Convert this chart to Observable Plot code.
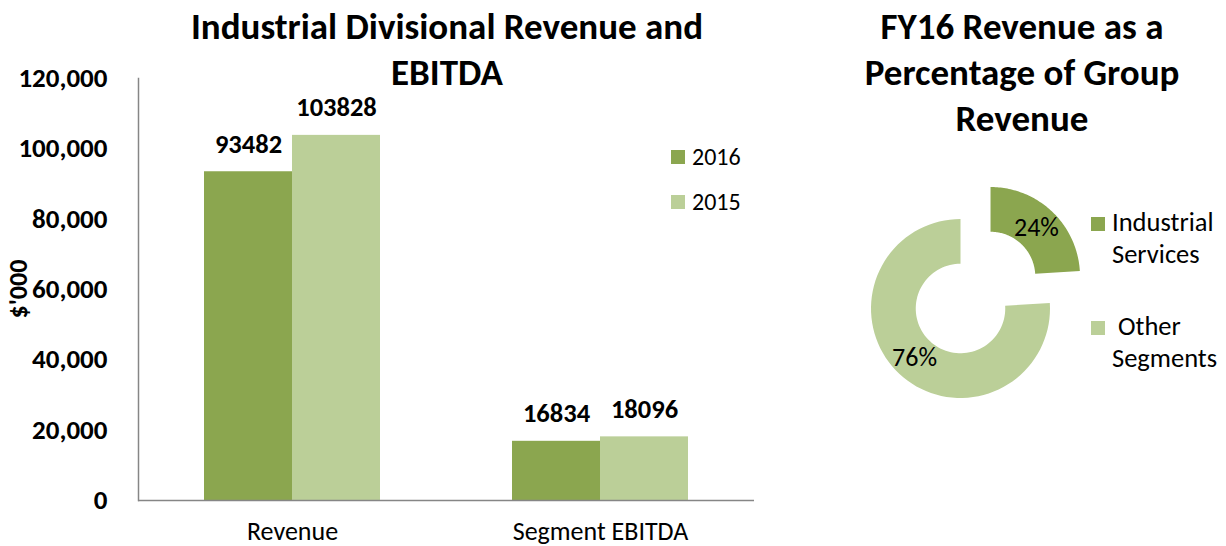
<!DOCTYPE html>
<html>
<head>
<meta charset="utf-8">
<script src="https://cdn.jsdelivr.net/npm/d3@7"></script>
<script src="https://cdn.jsdelivr.net/npm/@observablehq/plot@0.6"></script>
<style>
  html, body { margin: 0; padding: 0; background: #fff; }
  body { width: 1226px; height: 546px; position: relative; overflow: hidden;
         font-family: Carlito, Lato, "Open Sans", sans-serif; color: #000; }
  .abs { position: absolute; }
  .title { font-weight: bold; font-size: 37px; text-align: center; line-height: 46px; white-space: nowrap; }
  .leg { font-size: 24px; display: flex; align-items: center; }
  .sw { display: inline-block; width: 14px; height: 14px; margin-right: 7px; }
  .leg2 { font-size: 26.5px; line-height: 32px; }
</style>
</head>
<body>
<div id="bar" class="abs" style="left:0;top:0"></div>
<div id="pie" class="abs" style="left:850px;top:170px"></div>
<div class="abs title" style="left:147px;top:4px;width:600px">Industrial Divisional Revenue and<br>EBITDA</div>
<div class="abs title" style="left:842px;top:4px;width:360px">FY16 Revenue as a<br>Percentage of Group<br>Revenue</div>
<div class="abs" style="left:18px;top:289px;transform:translate(-50%,-50%) rotate(-90deg);font-weight:bold;font-size:26px;white-space:nowrap">$'000</div>
<div id="legBar" class="abs" style="left:671px;top:134px"></div>
<div id="legPie" class="abs" style="left:1091px;top:206px"></div>
<script>
// ---- data ----
const categories = ["Revenue", "Segment EBITDA"];
const years = ["2016", "2015"];
const values2016 = [93482, 16834];
const values2015 = [103828, 18096];
const yTicks = [0, 20000, 40000, 60000, 80000, 100000, 120000];

const pieNames = ["Industrial Services", "Other Segments"];
const pieLegend = [["Industrial", "Services"], ["\u00a0Other", "Segments"]];
const piePcts = [24, 76];

const colors = ["#8ba64f", "#bbcf98"];

// ---- bar chart ----
const rows = [];
categories.forEach((c, i) => {
  rows.push({category: c, year: years[0], value: values2016[i]});
  rows.push({category: c, year: years[1], value: values2015[i]});
});
const W = 760, ML = 138, MR = 6;
const step = (W - ML - MR) / categories.length;
const barW = step * 0.2857;           // each bar's share of the category band
const outer = (step - 2 * barW) / 2;
const font = "Carlito, Lato, 'Open Sans', sans-serif";

const barPlot = Plot.plot({
  width: W, height: 546,
  marginLeft: ML, marginRight: MR, marginTop: 78, marginBottom: 46,
  style: {fontFamily: font, color: "#000", background: "transparent", overflow: "visible"},
  x: {domain: categories, padding: 0},
  y: {domain: [0, 120000], ticks: yTicks},
  marks: [
    Plot.barY(rows.filter(d => d.year === years[0]), {x: "category", y: "value", fill: colors[0], insetLeft: outer, insetRight: outer + barW}),
    Plot.barY(rows.filter(d => d.year === years[1]), {x: "category", y: "value", fill: colors[1], insetLeft: outer + barW, insetRight: outer}),
    Plot.text(rows.filter(d => d.year === years[0]), {x: "category", y: "value", text: d => String(d.value), dx: -barW / 2, dy: -19, lineAnchor: "bottom", fontWeight: "bold", fontSize: 26.5}),
    Plot.text(rows.filter(d => d.year === years[1]), {x: "category", y: "value", text: d => String(d.value), dx: barW / 2, dy: -19, lineAnchor: "bottom", fontWeight: "bold", fontSize: 26.5}),
    Plot.axisY({ticks: yTicks, tickSize: 0, tickPadding: 31, tickFormat: d3.format(","), fontWeight: "bold", fontSize: 27, label: null}),
    Plot.axisX({tickSize: 0, tickPadding: 21, fontSize: 26, label: null}),
    Plot.frame({anchor: "left", stroke: "#868686", strokeWidth: 1.5}),
    Plot.ruleY([0], {stroke: "#868686", strokeWidth: 1.5})
  ]
});
document.getElementById("bar").appendChild(barPlot);

// bar legend
const lb = document.getElementById("legBar");
years.forEach((y, i) => {
  const d = document.createElement("div");
  d.className = "leg";
  d.style.height = "45px";
  d.innerHTML = `<span class="sw" style="background:${colors[i]}"></span><span>${y}</span>`;
  lb.appendChild(d);
});

// ---- donut ----
const R = 89.5;        // px per unit radius
const inner = 0.5;
const explode = [0.49, 0];
const arcs = d3.pie().sort(null).value(d => d)(piePcts);
const pts = [];
const labels = [];
arcs.forEach((a, i) => {
  const mid = (a.startAngle + a.endAngle) / 2;
  const ox = explode[i] * Math.sin(mid), oy = explode[i] * Math.cos(mid);
  const n = 80;
  for (let k = 0; k <= n; k++) {
    const t = a.startAngle + (a.endAngle - a.startAngle) * k / n;
    pts.push({slice: pieNames[i], x: ox + Math.sin(t), y: oy + Math.cos(t)});
  }
  for (let k = n; k >= 0; k--) {
    const t = a.startAngle + (a.endAngle - a.startAngle) * k / n;
    pts.push({slice: pieNames[i], x: ox + inner * Math.sin(t), y: oy + inner * Math.cos(t)});
  }
  const lr = (1 + inner) / 2;
  labels.push({x: ox + lr * Math.sin(mid), y: oy + lr * Math.cos(mid), text: piePcts[i] + "%"});
});
const PW = 250, PH = 240, cx = 110, cy = 138;
const piePlot = Plot.plot({
  width: PW, height: PH, margin: 0,
  style: {fontFamily: font, color: "#000", background: "transparent", overflow: "visible"},
  x: {domain: [-cx / R, (PW - cx) / R], axis: null},
  y: {domain: [-(PH - cy) / R, cy / R], axis: null},
  marks: [
    ...pieNames.map((nm, i) => Plot.line(pts.filter(p => p.slice === nm), {x: "x", y: "y", fill: colors[i], stroke: null, curve: "linear"})),
    Plot.text(labels, {x: "x", y: "y", text: "text", fontSize: 26})
  ]
});
document.getElementById("pie").appendChild(piePlot);

// pie legend
const lp = document.getElementById("legPie");
pieLegend.forEach((lines, i) => {
  const d = document.createElement("div");
  d.style.cssText = "display:flex;align-items:flex-start;height:104px";
  d.innerHTML = `<span class="sw" style="background:${colors[i]};margin-top:11px"></span><div class="leg2">${lines[0]}<br>${lines[1]}</div>`;
  lp.appendChild(d);
});
</script>
</body>
</html>
